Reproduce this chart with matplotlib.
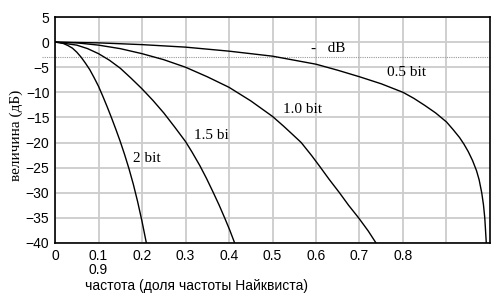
import matplotlib
matplotlib.use("Agg")
import matplotlib.pyplot as plt

# values (frequency as fraction of Nyquist, dB)
f_05 = [0, 0.1, 0.2, 0.3, 0.4, 0.5, 0.6, 0.65, 0.7, 0.75, 0.8, 0.825, 0.85, 0.875,
        0.9, 0.915, 0.93, 0.94, 0.95, 0.96, 0.969, 0.975, 0.981, 0.985, 0.988, 0.9915]
db_05 = [0, -0.15, -0.5, -1.0, -1.8, -2.8, -4.4, -5.6, -6.9, -8.3, -10.0, -11.2, -12.6, -14.1,
         -15.9, -17.4, -19.0, -20.3, -21.8, -23.6, -25.6, -27.4, -30, -32.4, -35, -40]

f_10 = [0, 0.05, 0.1, 0.15, 0.2, 0.25, 0.3, 0.35, 0.4, 0.45, 0.5, 0.525, 0.545, 0.566,
        0.59, 0.609, 0.63, 0.654, 0.675, 0.698, 0.72, 0.738]
db_10 = [0, -0.15, -0.6, -1.3, -2.3, -3.5, -5.0, -6.9, -9.0, -11.7, -14.8, -16.7, -18.3, -20,
         -22.6, -24.8, -27.3, -30, -32.5, -35, -37.6, -40]

f_15 = [0, 0.05, 0.075, 0.1, 0.125, 0.15, 0.175, 0.2, 0.225, 0.25, 0.275, 0.3, 0.315,
        0.333, 0.348, 0.363, 0.377, 0.39, 0.402, 0.413]
db_15 = [0, -0.6, -1.3, -2.3, -3.6, -5.2, -7.2, -9.3, -11.6, -14.1, -16.9, -19.8, -21.9,
         -24.6, -27.1, -29.8, -32.4, -35, -37.5, -40]

f_20 = [0, 0.01, 0.02, 0.03, 0.04, 0.05, 0.06, 0.07, 0.08, 0.09, 0.10, 0.11, 0.12, 0.13,
        0.14, 0.15, 0.16, 0.17, 0.18, 0.19, 0.20, 0.21]
db_20 = [0, -0.08, -0.3, -0.7, -1.2, -2.0, -3.0, -4.2, -5.5, -7.1, -8.8, -10.8, -12.9, -15.1,
         -17.4, -19.8, -22.4, -25.2, -28.3, -31.8, -35.7, -40]

x_ticks = [0, 0.1, 0.2, 0.3, 0.4, 0.5, 0.6, 0.7, 0.8, 0.9]
x_tick_labels = ["0", "0.1", "0.2", "0.3", "0.4", "0.5", "0.6", "0.7", "0.8", ""]
y_ticks = [5, 0, -5, -10, -15, -20, -25, -30, -35, -40]

curve_labels = ["0.5 bit", "1.0 bit", "1.5 bi", "2 bit"]
label_pos = [(0.764, -6.0), (0.523, -13.4), (0.319, -18.5), (0.179, -23.2)]

fig = plt.figure(figsize=(4.97, 3.02), dpi=100)
ax = fig.add_axes([0.1107, 0.1954, 0.8752, 0.7483])

ax.set_xlim(0, 1.0)
ax.set_ylim(-40, 5)
ax.set_xticks(x_ticks)
ax.set_xticklabels(x_tick_labels)
ax.set_yticks(y_ticks)
ax.grid(True, color="#cccccc", linewidth=1.3)
ax.set_axisbelow(True)
ax.tick_params(length=0, labelsize=10, pad=4)
for lab in ax.get_xticklabels() + ax.get_yticklabels():
    lab.set_family("Liberation Sans")
for sp in ax.spines.values():
    sp.set_color("black")
    sp.set_linewidth(1.2)

# -3 dB dotted line
ax.axhline(-3, xmin=-0.03, xmax=1, color="#999999", linestyle=(0, (1, 1)),
           linewidth=0.8, clip_on=False)

for fx, dbs in [(f_05, db_05), (f_10, db_10), (f_15, db_15), (f_20, db_20)]:
    ax.plot(fx, dbs, color="black", linewidth=1.0)

for txt, (lx, ly) in zip(curve_labels, label_pos):
    ax.text(lx, ly, txt, family="Liberation Serif", fontsize=11, va="center", ha="left")

ax.text(0.628, -1.25, "-   dB", family="Liberation Serif", fontsize=11, va="center", ha="center")

# stray second-row tick label under 0.1
ax.text(0.1, -45.3, "0.9", family="Liberation Sans", fontsize=10, va="center", ha="center",
        clip_on=False)

ax.set_xlabel("частота (доля частоты Найквиста)", family="Liberation Sans", fontsize=10)
ax.xaxis.set_label_coords(0.325, -0.159)
ax.set_ylabel("величина (дБ)", family="Liberation Serif", fontsize=11)
ax.yaxis.set_label_coords(-0.074, 0.477)

fig.savefig("out.png", dpi=100)
